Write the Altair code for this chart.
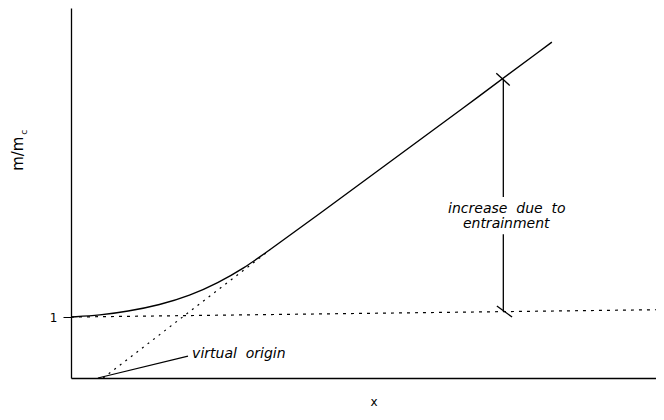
import altair as alt
import pandas as pd

# ---- data (x in arbitrary units 0..10, y in units of m/m_c) ----
curve_x = [0.0, 0.5, 0.96, 1.52, 2.03, 2.51, 2.97, 3.35, 4.2, 5.4, 6.65, 8.22]
curve_y = [1.0, 1.03, 1.09, 1.2, 1.35, 1.56, 1.81, 2.07, 2.66, 3.51, 4.39, 5.51]

tangent_x = [0.55, 3.4]
tangent_y = [0.0, 2.1]

ref_x = [0.0, 10.0]
ref_y = [1.0, 1.12]

# arrow "increase due to entrainment" (two pieces, gap for the text)
arrow_x = [7.39, 7.39]
arrow_y1 = [4.9, 2.36]
arrow_y2 = [2.97, 1.09]

# cross ticks at arrow ends
cross_x1 = [7.27, 7.28]
cross_x2 = [7.5, 7.54]
cross_y1 = [5.0, 1.18]
cross_y2 = [4.8, 1.0]

# leader line to the virtual origin
leader_x = [0.46, 2.0]
leader_y = [0.0, 0.36]

NB = "\u00a0"
labels = ["virtual" + NB + NB + "origin", "increase" + NB + NB + "due" + NB + NB + "to", "entrainment"]
label_x = [2.07, 7.45, 7.44]
label_y = [0.39, 2.77, 2.53]
label_align = ["left", "center", "center"]

ytick_values = [1]

XMAX = 10.0
YMAX = 6.07

xs = alt.Scale(domain=[0, XMAX], nice=False, zero=False)
ys = alt.Scale(domain=[0, YMAX], nice=False, zero=False)

x_axis = alt.Axis(title=None, labels=False, ticks=False, grid=False,
                  domainColor="black", domainWidth=1.3)
y_axis = alt.Axis(title=None, values=ytick_values, grid=False, domainColor="black",
                  domainWidth=1.3, tickColor="black", tickSize=8, tickWidth=1,
                  labelFont="DejaVu Sans", labelFontSize=12, labelColor="black",
                  labelPadding=6)

X = alt.X("x:Q", scale=xs, axis=x_axis)
Y = alt.Y("y:Q", scale=ys, axis=y_axis)

curve = alt.Chart(pd.DataFrame({"x": curve_x, "y": curve_y})).mark_line(
    color="black", strokeWidth=1.4, interpolate="basis"
).encode(x=X, y=Y)

tangent = alt.Chart(pd.DataFrame({"x": tangent_x, "y": tangent_y})).mark_line(
    color="black", strokeWidth=1.2, strokeDash=[2, 5]
).encode(x=X, y=Y)

ref = alt.Chart(pd.DataFrame({"x": ref_x, "y": ref_y})).mark_line(
    color="black", strokeWidth=1.2, strokeDash=[3, 5]
).encode(x=X, y=Y)

arrow = alt.Chart(pd.DataFrame({"x": arrow_x, "y": arrow_y1, "y2": arrow_y2})).mark_rule(
    color="black", strokeWidth=1.3
).encode(x=X, y=Y, y2="y2:Q")

cross = alt.Chart(pd.DataFrame({"x": cross_x1, "x2": cross_x2,
                                "y": cross_y1, "y2": cross_y2})).mark_rule(
    color="black", strokeWidth=1.3
).encode(x=X, y=Y, x2="x2:Q", y2="y2:Q")

leader = alt.Chart(pd.DataFrame({"x": [leader_x[0]], "x2": [leader_x[1]],
                                 "y": [leader_y[0]], "y2": [leader_y[1]]})).mark_rule(
    color="black", strokeWidth=1.2
).encode(x=X, y=Y, x2="x2:Q", y2="y2:Q")

lab_df = pd.DataFrame({"x": label_x, "y": label_y, "t": labels})
texts = []
for i in range(len(labels)):
    texts.append(
        alt.Chart(lab_df.iloc[[i]]).mark_text(
            font="DejaVu Sans", fontStyle="italic", fontSize=14, color="black",
            align=label_align[i], baseline="middle"
        ).encode(x=X, y=Y, text="t:N")
    )

# axis titles as text marks
ytitle = alt.Chart(pd.DataFrame({"x": [-0.91], "y": [3.68], "t": ["m/m"]})).mark_text(
    font="DejaVu Sans", fontSize=15, color="black", angle=270, baseline="middle",
    align="center"
).encode(x=X, y=Y, text="t:N")
ysub = alt.Chart(pd.DataFrame({"x": [-0.81], "y": [4.03], "t": ["c"]})).mark_text(
    font="DejaVu Sans", fontSize=9, color="black", angle=270, baseline="middle",
    align="center"
).encode(x=X, y=Y, text="t:N")
xtitle = alt.Chart(pd.DataFrame({"x": [5.18], "y": [-0.39], "t": ["x"]})).mark_text(
    font="DejaVu Sans", fontSize=12, color="black", baseline="middle", align="center"
).encode(x=X, y=Y, text="t:N")

chart = alt.layer(
    ref, tangent, curve, arrow, cross, leader, *texts, ytitle, ysub, xtitle
).properties(
    width=585, height=370,
    autosize=alt.AutoSizeParams(type="none"),
    padding={"left": 63, "top": 0, "right": 0, "bottom": 32},
    background="white",
).configure_view(stroke=None)

chart.save("out.html", embed_options={"renderer": "svg", "actions": False})
